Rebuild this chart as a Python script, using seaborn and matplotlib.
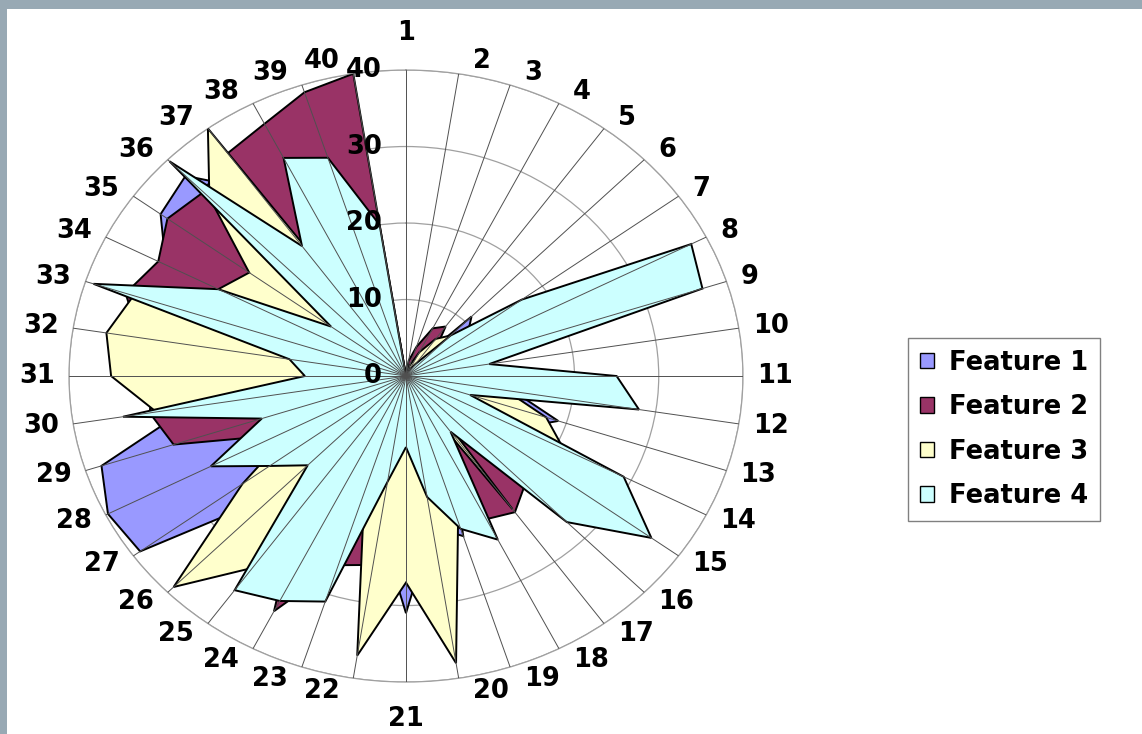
import numpy as np
import pandas as pd
import seaborn as sns
import matplotlib.pyplot as plt
from matplotlib.patches import Patch, Rectangle

# radar chart, 40 categories, 4 features
categories = [str(i) for i in range(1, 41)]

feature_1 = [0, 0.5, 1, 1.5, 2.5, 11, 9, 10, 10, 5,
             8, 13, 19, 15, 15, 12, 10, 12, 22, 20,
             31, 20, 18, 15, 18, 22, 39, 39.7, 38, 26,
             25, 25, 28, 32, 36, 37, 30, 20, 15, 5]
feature_2 = [0, 2, 4, 7, 8, 5, 6, 8, 8, 5,
             6, 8, 7, 12, 15, 20, 22, 21, 18, 20,
             22, 25, 26, 34.5, 22, 18, 14, 17, 29, 30.8,
             30, 32, 35, 33, 35, 34, 36, 37, 39, 40]
feature_3 = [0, 0.5, 1.5, 3.5, 6, 7.5, 5, 6, 6, 4,
             8, 12, 17.5, 21, 18, 3, 21.5, 3, 20, 38,
             27, 37, 16, 22, 31, 39, 24, 15, 15, 30,
             35, 36, 34, 25, 23, 33, 40, 3, 2, 1]
feature_4 = [0, 0.3, 0.5, 1, 2, 7.5, 17, 38, 37, 10,
             25, 28, 8, 29, 36, 27, 9, 24, 21, 16,
             9.3, 14, 31, 33, 34.6, 16.5, 20, 26, 18, 34,
             12, 14, 39, 25, 11, 39.7, 21, 32, 30, 20]

ring_ticks = [0, 10, 20, 30, 40]
series_names = ["Feature 1", "Feature 2", "Feature 3", "Feature 4"]
series_colors = ["#9999FF", "#993366", "#FFFFCC", "#CCFFFF"]

df = pd.DataFrame({"Feature 1": feature_1, "Feature 2": feature_2,
                   "Feature 3": feature_3, "Feature 4": feature_4},
                  index=categories)

sns.set_style("white")
plt.rcParams['font.family'] = ['DejaVu Sans']
plt.rcParams['font.weight'] = 'bold'
plt.rcParams['text.color'] = 'black'

fig = plt.figure(figsize=(11.42, 7.34), dpi=100)
# grey frame strips at top and left
fig.patches.append(Rectangle((0, 1 - 9 / 734), 1, 9 / 734, transform=fig.transFigure,
                             facecolor="#98a9b4", edgecolor="none", zorder=0))
fig.patches.append(Rectangle((0, 0), 7 / 1142, 1, transform=fig.transFigure,
                             facecolor="#98a9b4", edgecolor="none", zorder=0))

ax = fig.add_axes([0.0604, 0.0708, 0.5902, 0.8338], projection="polar")
ax.set_aspect("auto")   # the chart is stretched sideways, so keep it elliptic
ax.set_theta_zero_location("N")
ax.set_theta_direction(-1)
ax.set_ylim(0, 40)

theta = np.deg2rad(np.arange(len(categories)) * 360 / len(categories))
closed_theta = np.append(theta, theta[0])

for i, (name, color) in enumerate(zip(series_names, series_colors)):
    vals = df[name].to_numpy()
    ax.fill(closed_theta, np.append(vals, vals[0]), facecolor=color,
            edgecolor="black", linewidth=1.4, zorder=2 + i)

# spokes on top of the fills
for t in theta:
    ax.plot([t, t], [0, 40], color="#505050", linewidth=0.7, zorder=10)

ax.set_yticks(ring_ticks[1:])
ax.set_yticklabels([])
ax.set_xticks(theta)
ax.set_xticklabels([])
ax.yaxis.grid(True, color="#a0a0a0", linewidth=0.9)
ax.xaxis.grid(False)
ax.spines["polar"].set_color("#a0a0a0")
ax.spines["polar"].set_linewidth(0.9)
ax.tick_params(length=0)

fs = 18.5
for i, (t, lab) in enumerate(zip(theta, categories)):
    s, c = np.sin(t), np.cos(t)
    if i == 0:
        off, ha, va = (0, 24), "center", "bottom"
    elif i == len(categories) // 2:
        off, ha, va = (0, -24), "center", "top"
    else:
        off = (14 if s > 0 else -14, 13 * c)
        ha, va = ("left" if s > 0 else "right"), "center"
    ax.annotate(lab, xy=(t, 40), xytext=off, textcoords="offset pixels",
                ha=ha, va=va, fontsize=fs, fontweight="bold", color="black",
                zorder=12, annotation_clip=False)

for v in ring_ticks:
    ax.annotate(str(v), xy=(0, v), xytext=(-24, 0), textcoords="offset pixels",
                ha="right", va="center", fontsize=fs, fontweight="bold",
                color="black", zorder=12, annotation_clip=False)

handles = [Patch(facecolor=c, edgecolor="black", label=n)
           for n, c in zip(series_names, series_colors)]
leg = fig.legend(handles=handles, loc="upper left",
                 bbox_to_anchor=(908 / 1142, 1 - 338 / 734),
                 frameon=True, fancybox=False, edgecolor="#808080", framealpha=1,
                 prop={"size": fs, "weight": "bold"},
                 handlelength=0.55, handleheight=0.55, handletextpad=0.6,
                 labelspacing=0.72, borderpad=0.45, borderaxespad=0)
leg.get_frame().set_linewidth(1.0)
for txt in leg.get_texts():
    txt.set_color("black")

fig.savefig("out.png", dpi=100)
